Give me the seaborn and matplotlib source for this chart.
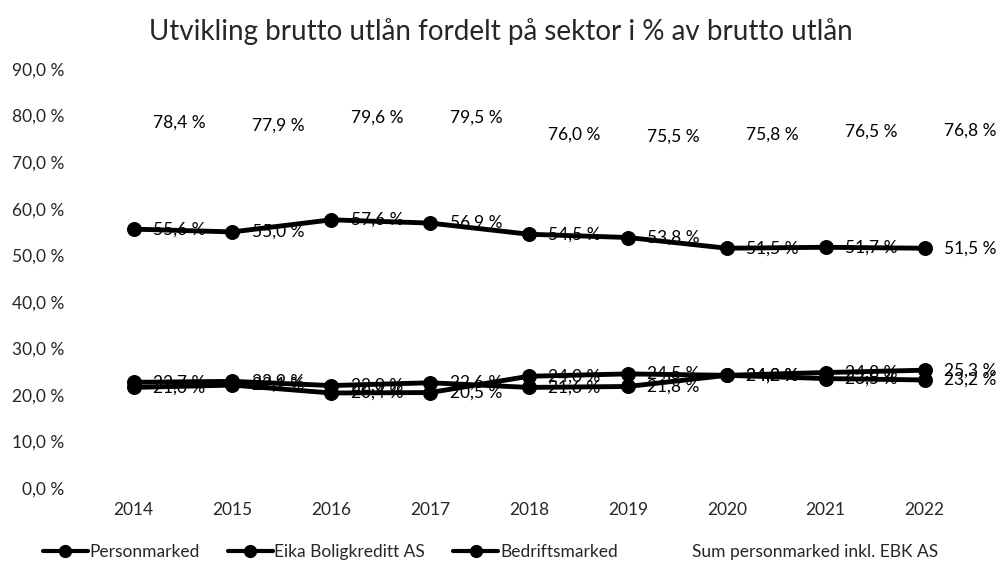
import pandas as pd
import matplotlib.pyplot as plt
import seaborn as sns
from matplotlib.lines import Line2D

# data
years = [2014, 2015, 2016, 2017, 2018, 2019, 2020, 2021, 2022]
personmarked = [55.6, 55.0, 57.6, 56.9, 54.5, 53.8, 51.5, 51.7, 51.5]
eika_boligkreditt = [22.7, 22.9, 22.0, 22.6, 21.6, 21.8, 24.2, 24.8, 25.3]
bedriftsmarked = [21.6, 22.1, 20.4, 20.5, 24.0, 24.5, 24.2, 23.5, 23.2]
sum_person_ebk = [78.4, 77.9, 79.6, 79.5, 76.0, 75.5, 75.8, 76.5, 76.8]

series_names = ['Personmarked', 'Eika Boligkreditt AS', 'Bedriftsmarked']
sum_name = 'Sum personmarked inkl. EBK AS'

df = pd.DataFrame({
    'År': [str(y) for y in years] * 3,
    'Andel': personmarked + eika_boligkreditt + bedriftsmarked,
    'Serie': [n for n in series_names for _ in years],
})

sns.set_style("white")
plt.rcParams['font.family'] = ['Lato', 'DejaVu Sans']

def fmt(v):
    return f"{v:.1f} %".replace('.', ',')

fig = plt.figure(figsize=(10.01, 5.64), dpi=100)
ax = fig.add_axes([0.084, 0.1348, 0.889, 0.7429])

sns.lineplot(data=df, x='År', y='Andel', hue='Serie', hue_order=series_names,
             palette=['black'] * 3, marker='o', markersize=10, linewidth=3.5,
             markeredgecolor='black', legend=False, sort=False, ax=ax)

# datalabels til høyre for punktene
for vals in [personmarked, eika_boligkreditt, bedriftsmarked, sum_person_ebk]:
    for i, v in enumerate(vals):
        ax.annotate(fmt(v), (i, v), xytext=(14, 0), textcoords='offset points',
                    ha='left', va='center', fontsize=12.5, color='black')

ax.set_xlim(-0.5, len(years) - 0.5)
ax.set_ylim(0, 90)
ax.set_yticks(range(0, 91, 10))
ax.set_yticklabels([fmt(t) for t in range(0, 91, 10)], fontsize=12.5)
ax.tick_params(axis='x', labelsize=12.5, length=0, pad=10)
ax.tick_params(axis='y', length=0, pad=14)
ax.set_xlabel('')
ax.set_ylabel('')
for s in ax.spines.values():
    s.set_visible(False)

fig.suptitle('Utvikling brutto utlån fordelt på sektor i % av brutto utlån',
             fontsize=20, y=0.968)

handles = [Line2D([], [], color='black', lw=3, marker='o', markersize=8.5) for _ in series_names]
handles.append(Line2D([], [], color='none'))
fig.legend(handles, series_names + [sum_name], loc='lower center', ncol=4,
           frameon=False, fontsize=12.5, handlelength=2.6, handletextpad=0.1,
           columnspacing=1.6, bbox_to_anchor=(0.49, -0.02))

plt.savefig('out.png', dpi=100)
plt.close()
